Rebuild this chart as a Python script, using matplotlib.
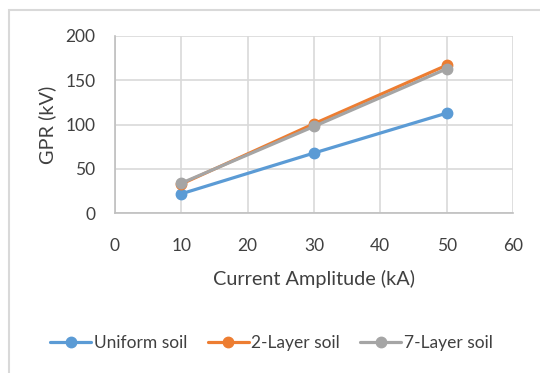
import matplotlib
matplotlib.use("Agg")
import matplotlib.pyplot as plt
from matplotlib.patches import Rectangle

plt.rcParams['font.family'] = ['Lato', 'DejaVu Sans']

current = [10, 30, 50]
uniform = [22, 68, 113]
layer2 = [33, 101, 167]
layer7 = [34, 98, 163]
series_names = ["Uniform soil", "2-Layer soil", "7-Layer soil"]
colors = ["#5B9BD5", "#ED7D31", "#A5A5A5"]
xticks = [0, 10, 20, 30, 40, 50, 60]
yticks = [0, 50, 100, 150, 200]

W, H = 540, 373
fig = plt.figure(figsize=(W / 100, H / 100), dpi=100)
fig.patch.set_facecolor("white")
fig.patches.append(Rectangle((9 / W, -0.1), 1.2, 1 - 10 / H + 0.1, transform=fig.transFigure,
                             fill=False, edgecolor="#D9D9D9", linewidth=1.5, zorder=0))

ax = fig.add_axes([115 / W, 1 - 213.3 / H, (513 - 115) / W, (213.3 - 36) / H])
for vals, name, c in zip([uniform, layer2, layer7], series_names, colors):
    ax.plot(current, vals, color=c, lw=2.3, marker="o", ms=7.5, label=name, solid_capstyle="round")

ax.set_xlim(0, 60)
ax.set_ylim(0, 200)
ax.set_xticks(xticks)
ax.set_yticks(yticks)
ax.grid(True, color="#D9D9D9", lw=1.2)
ax.set_axisbelow(True)
for s in ["top", "right"]:
    ax.spines[s].set_visible(False)
for s in ["left", "bottom"]:
    ax.spines[s].set_color("#BFBFBF")
    ax.spines[s].set_linewidth(1.2)
ax.tick_params(length=0, labelsize=12.5, colors="#404040")
ax.tick_params(axis="x", pad=18)
ax.tick_params(axis="y", pad=14)
ax.set_xlabel("Current Amplitude (kA)", fontsize=14.3, color="#404040", labelpad=11)
ax.set_ylabel("GPR (kV)", fontsize=14.3, color="#404040", labelpad=7)

leg = fig.legend(loc="center", bbox_to_anchor=(0.503, 1 - 343 / H), ncol=3, frameon=False,
                 fontsize=12.5, handlelength=2.36, columnspacing=1.15, handletextpad=0.17)
for t in leg.get_texts():
    t.set_color("#404040")

fig.savefig("out.png", dpi=100)
